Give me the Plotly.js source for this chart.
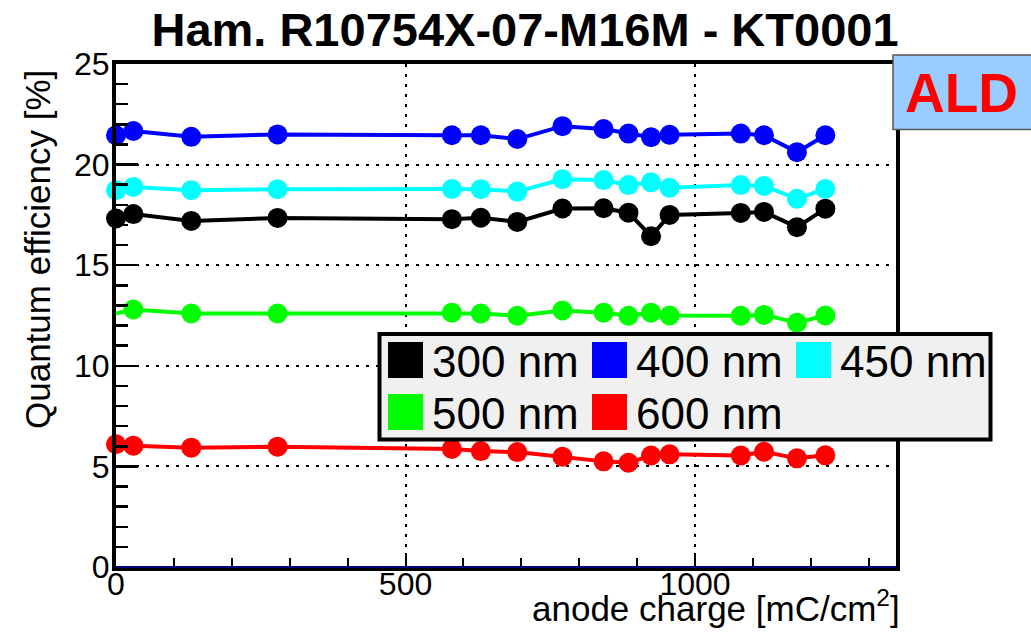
<!DOCTYPE html>
<html>
<head>
<meta charset="utf-8">
<script src="https://cdn.plot.ly/plotly-3.0.1.min.js"></script>
<style>html,body{margin:0;padding:0;background:#fff;}#chart{width:1031px;height:632px;}</style>
</head>
<body>
<div id="chart"></div>
<script>
// ---- data ----
var charge = [0, 30, 130, 279, 580, 630, 693, 771, 842, 885, 924, 956, 1079, 1119, 1176, 1225];
var qe300 = [17.32, 17.54, 17.20, 17.35, 17.29, 17.36, 17.15, 17.82, 17.83, 17.61, 16.44, 17.50, 17.60, 17.65, 16.89, 17.81];
var qe400 = [21.46, 21.67, 21.38, 21.50, 21.46, 21.46, 21.27, 21.91, 21.77, 21.54, 21.36, 21.48, 21.54, 21.46, 20.62, 21.46];
var qe450 = [18.73, 18.89, 18.73, 18.78, 18.79, 18.78, 18.66, 19.27, 19.23, 18.98, 19.12, 18.85, 18.98, 18.94, 18.30, 18.79];
var qe500 = [12.60, 12.80, 12.60, 12.60, 12.64, 12.60, 12.49, 12.75, 12.64, 12.49, 12.64, 12.50, 12.49, 12.53, 12.14, 12.50];
var qe600 = [6.10, 6.03, 5.93, 5.98, 5.87, 5.76, 5.71, 5.48, 5.25, 5.18, 5.54, 5.60, 5.54, 5.73, 5.40, 5.55];
var seriesNames = ['300 nm', '400 nm', '450 nm', '500 nm', '600 nm'];
var seriesColors = ['#000000', '#0000ff', '#00ffff', '#00ff00', '#ff0000'];
var seriesValues = [qe300, qe400, qe450, qe500, qe600];
var chartTitle = 'Ham. R10754X-07-M16M - KT0001';
var xTitle = 'anode charge [mC/cm<sup>2</sup>]';
var yTitle = 'Quantum efficiency [%]';
var tagText = 'ALD';

// ---- layout geometry ----
var W = 1031, H = 632;
var L = 116, R = 896, T = 64, B = 567;
function px(x) { return (x - L) / (R - L); }
function py(y) { return (B - y) / (B - T); }
var FONT = 'Liberation Sans, Arial, Helvetica, sans-serif';

var traces = seriesValues.map(function (vals, k) {
  var sizes = vals.map(function (v, i) { return (k === 3 && i === 0) ? 0 : 20; });
  return {
    x: charge, y: vals, type: 'scatter', mode: 'lines+markers', name: seriesNames[k],
    line: { color: seriesColors[k], width: 4 },
    marker: { color: seriesColors[k], size: sizes, symbol: 'circle', opacity: 1, line: { width: 0 } },
    showlegend: false, cliponaxis: false
  };
});

var shapes = [];
var annotations = [];

// navy line at y = 0
shapes.push({ type: 'line', xref: 'paper', yref: 'paper', x0: 0, x1: 1, y0: 0, y1: 0,
  line: { color: '#000080', width: 2 }, layer: 'above' });

// legend box (drawn with shapes + text)
var lx0 = 379.5, lx1 = 990.5, ly0 = 334, ly1 = 439.5;
shapes.push({ type: 'rect', xref: 'paper', yref: 'paper', x0: px(lx0), x1: px(lx1), y0: py(ly1), y1: py(ly0),
  fillcolor: '#f0f0f0', line: { color: '#000000', width: 4 }, layer: 'above' });
seriesNames.forEach(function (nm, k) {
  var col = k % 3, row = Math.floor(k / 3);
  var sx0 = 388 + col * 204, sy0 = 342 + row * 52;
  shapes.push({ type: 'rect', xref: 'paper', yref: 'paper', x0: px(sx0), x1: px(sx0 + 35), y0: py(sy0 + 36), y1: py(sy0),
    fillcolor: seriesColors[k], line: { width: 0 }, layer: 'above' });
  annotations.push({ xref: 'paper', yref: 'paper', x: px(sx0 + 42), y: py(sy0 + 19), xanchor: 'left', yanchor: 'middle',
    text: nm, showarrow: false, font: { family: FONT, size: 44, color: '#000' } });
});

// ALD tag box
shapes.push({ type: 'rect', xref: 'paper', yref: 'paper', x0: px(893), x1: px(1040), y0: py(129.5), y1: py(55),
  fillcolor: '#99ccff', line: { color: '#555555', width: 1.5 }, layer: 'above' });
annotations.push({ xref: 'paper', yref: 'paper', x: px(962), y: py(93), xanchor: 'center', yanchor: 'middle',
  text: '<b>' + tagText + '</b>', showarrow: false, font: { family: FONT, size: 55, color: '#ff0000' } });

// x-axis title, right aligned
annotations.push({ xref: 'paper', yref: 'paper', x: px(902), y: py(630), xanchor: 'right', yanchor: 'bottom',
  text: xTitle, showarrow: false, font: { family: FONT, size: 35, color: '#000' } });

// y-axis title
annotations.push({ xref: 'paper', yref: 'paper', x: px(38), y: py(250), xanchor: 'center', yanchor: 'middle',
  text: yTitle, textangle: -90, showarrow: false, font: { family: FONT, size: 35, color: '#000' } });

var layout = {
  width: W, height: H,
  margin: { l: L, r: W - R, t: T, b: H - B, pad: 0 },
  paper_bgcolor: '#ffffff', plot_bgcolor: '#ffffff',
  showlegend: false,
  title: { text: '<b>' + chartTitle + '</b>', x: 525 / W, xanchor: 'center', xref: 'container',
    y: 1 - 30 / H, yanchor: 'middle', yref: 'container',
    font: { family: FONT, size: 47, color: '#000' } },
  xaxis: {
    range: [0, 1347], tickmode: 'linear', tick0: 0, dtick: 500,
    ticks: 'inside', ticklen: 14, tickwidth: 2, tickcolor: '#000',
    minor: { dtick: 100, ticks: 'inside', ticklen: 9, tickwidth: 2, tickcolor: '#000', showgrid: false },
    showgrid: true, gridcolor: '#000', gridwidth: 2, griddash: '3px,7px',
    zeroline: false, showline: true, linecolor: '#000', linewidth: 4, mirror: true,
    ticklabelstandoff: -14,
    tickfont: { family: FONT, size: 32, color: '#000' }
  },
  yaxis: {
    range: [0, 25], tickmode: 'linear', tick0: 0, dtick: 5,
    ticks: 'inside', ticklen: 22, tickwidth: 2.5, tickcolor: '#000',
    minor: { dtick: 1, ticks: 'inside', ticklen: 12, tickwidth: 2.5, tickcolor: '#000', showgrid: false },
    showgrid: true, gridcolor: '#000', gridwidth: 2, griddash: '3px,7px',
    zeroline: false, showline: true, linecolor: '#000', linewidth: 4, mirror: true,
    ticklabelstandoff: -4,
    tickfont: { family: FONT, size: 32, color: '#000' }
  },
  shapes: shapes,
  annotations: annotations
};

Plotly.newPlot('chart', traces, layout, { staticPlot: true, displayModeBar: false });
</script>
</body>
</html>
